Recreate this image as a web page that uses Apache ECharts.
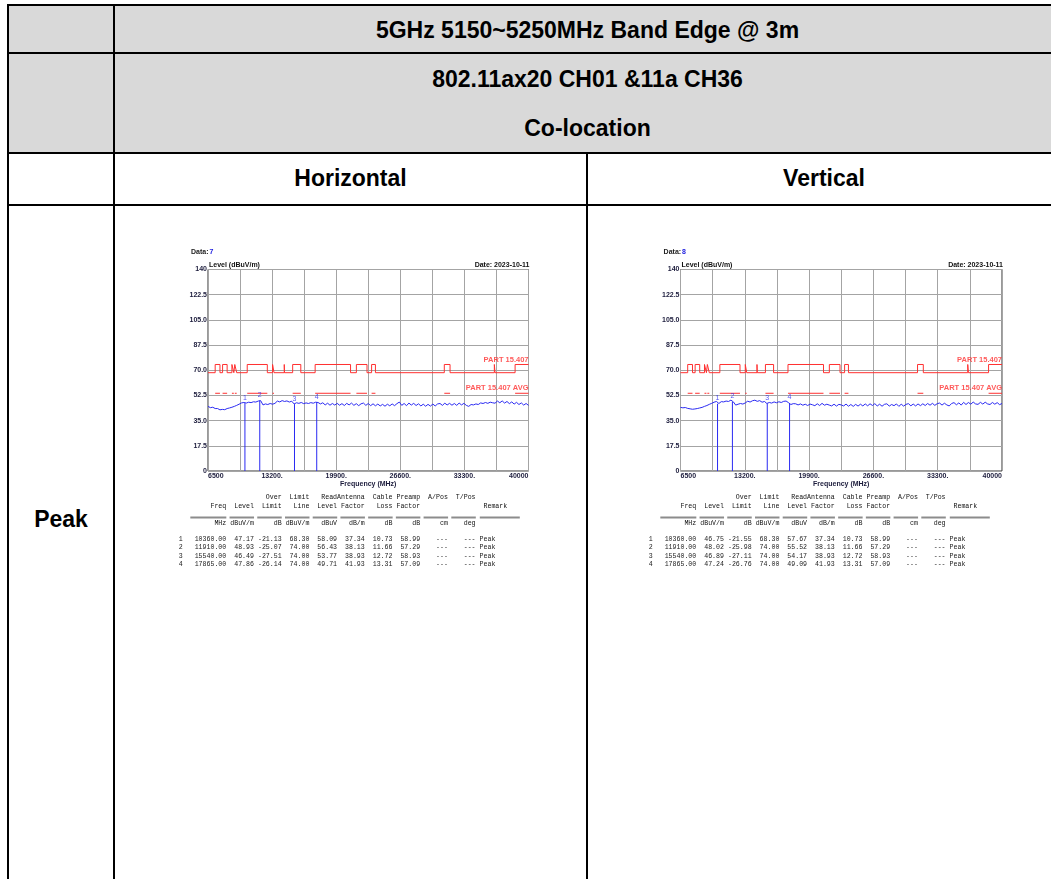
<!DOCTYPE html>
<html><head><meta charset="utf-8">
<script src="https://cdn.jsdelivr.net/npm/echarts@6/dist/echarts.min.js"></script>
<style>
html,body{margin:0;padding:0;background:#fff;}
#page{position:relative;width:1051px;height:879px;overflow:hidden;font-family:'Liberation Sans',Arial,sans-serif;}
.bg{position:absolute;background:#d9d9d9;}
.h{position:absolute;height:2px;background:#000;}
.v{position:absolute;width:2px;background:#000;}
.t{position:absolute;font-weight:bold;font-size:23px;height:28px;line-height:28px;text-align:center;color:#000;white-space:nowrap;}
#chart{position:absolute;left:0;top:0;width:1051px;height:879px;}
</style></head><body>
<div id="page">
  <div class="bg" style="left:8px;top:4px;width:1060px;height:149px"></div>
  <div class="h" style="left:8px;top:4px;width:1060px"></div>
  <div class="h" style="left:8px;top:52px;width:1060px"></div>
  <div class="h" style="left:8px;top:152px;width:1060px"></div>
  <div class="h" style="left:8px;top:204px;width:1060px"></div>
  <div class="v" style="left:7px;top:4px;height:875px"></div>
  <div class="v" style="left:113px;top:4px;height:875px"></div>
  <div class="v" style="left:586px;top:152px;height:727px"></div>
  <div class="t" style="left:114px;width:947px;top:16px">5GHz 5150~5250MHz Band Edge @ 3m</div>
  <div class="t" style="left:114px;width:947px;top:65px">802.11ax20 CH01 &amp;11a CH36</div>
  <div class="t" style="left:114px;width:947px;top:114px">Co-location</div>
  <div class="t" style="left:114px;width:473px;top:164px">Horizontal</div>
  <div class="t" style="left:587px;width:474px;top:164px">Vertical</div>
  <div class="t" style="left:8px;width:106px;top:505px">Peak</div>
  <div id="chart"></div>
</div>
<script>
// ---------------- data ----------------
const traceFreq = [6500,6750,7000,7250,7500,7750,8000,8250,8500,8750,9000,9250,9500,9750,10000,10250,10500,10750,11000,11250,11500,11750,12000,12250,12500,12750,13000,13250,13500,13750,14000,14250,14500,14750,15000,15250,15500,15750,16000,16250,16500,16750,17000,17250,17500,17750,18000,18250,18500,18750,19000,19250,19500,19750,20000,20250,20500,20750,21000,21250,21500,21750,22000,22250,22500,22750,23000,23250,23500,23750,24000,24250,24500,24750,25000,25250,25500,25750,26000,26250,26500,26750,27000,27250,27500,27750,28000,28250,28500,28750,29000,29250,29500,29750,30000,30250,30500,30750,31000,31250,31500,31750,32000,32250,32500,32750,33000,33250,33500,33750,34000,34250,34500,34750,35000,35250,35500,35750,36000,36250,36500,36750,37000,37250,37500,37750,38000,38250,38500,38750,39000,39250,39500,39750,40000];
const horizontalTrace = [
44.9,44.0,44.3,43.4, 43.4,42.5,42.8,42.6, 43.4,43.8,44.3,44.9, 45.6,46.4,47.3,47.6,
47.2,47.8,47.5,48.1, 47.9,48.6,48.9,45.9, 46.6,46.2,46.9,46.4, 47.0,48.6,48.0,48.9,
48.3,48.7,47.9,48.5, 46.6,47.4,47.0,47.6, 46.8,47.3,46.9,47.5, 47.1,47.8,47.6,46.6,
47.4,45.9,47.1,45.7, 46.9,45.8,47.0,45.7, 46.8,45.5,47.0,45.9, 47.2,45.6,46.8,45.4,
46.7,47.2,45.6,46.9, 45.4,46.7,45.3,46.5, 45.2,46.3,45.0,46.4, 45.3,46.6,45.4,46.8,
47.9,45.6,46.9,45.4, 47.2,45.8,47.0,45.5, 46.7,45.2,46.4,45.0, 46.3,45.1,46.5,45.2,
46.6,46.9,45.6,47.1, 45.9,47.0,45.7,46.9, 45.6,47.2,45.9,47.0, 45.6,44.9,46.2,45.9,
46.6,46.2,47.3,46.9, 47.6,47.0,47.8,47.4, 47.1,48.6,47.4,48.7, 47.2,48.3,46.8,48.0,
46.5,47.7,46.2,47.3, 45.8,46.9,45.6];
const verticalTrace = [
44.2,43.9,44.1,43.5, 43.2,42.9,43.1,43.4, 43.8,44.2,44.9,45.5, 46.3,47.0,47.8,48.3,
46.9,48.2,48.0,48.6, 48.3,49.2,48.1,45.8, 46.4,46.9,46.5,47.3, 48.5,47.9,48.8,49.2,
48.4,48.9,47.8,48.3, 46.9,47.6,47.2,48.0, 47.4,48.1,47.6,48.4, 48.6,47.5,46.2,46.8,
46.7,45.9,46.6,45.7, 46.4,45.5,46.5,46.0, 45.4,46.7,45.5,47.0, 45.7,46.4,45.8,45.2,
46.4,45.1,46.3,45.9, 45.2,46.5,45.0,46.2, 44.9,46.3,45.1,46.4, 45.2,46.6,45.3,46.7,
45.5,46.8,45.2,46.4, 45.0,46.3,46.7,45.1, 46.2,45.4,46.6,44.9, 46.4,45.1,46.3,46.8,
45.3,46.5,45.2,46.6, 45.4,46.7,45.5,46.9, 45.7,47.0,45.6,46.8, 47.2,45.8,47.1,45.9,
45.2,46.9,47.5,46.0, 47.3,45.8,47.7,46.2, 47.6,46.4,47.9,46.6, 46.3,47.7,46.5,47.8,
46.6,46.2,47.6,46.4, 47.5,46.1,46.9];
// restricted bands (MHz) where the peak limit is 74 dBuV/m and the AVG limit is 54
const bandStart = [7250,8025,9000,9300,10600,13250,14470,15350,17700,22010,23600,31200,36430,38600];
const bandEnd   = [7750,8500,9200,9500,12700,13400,14500,16200,21400,23120,24000,31800,36500,40000];
const peakLimitLow = 68.3, peakLimitHigh = 74.0, avgLimit = 54.0;
const markerFreq = [10360.00,11910.00,15540.00,17865.00];
const hLevel = [47.17,48.93,46.49,47.86];
const vLevel = [46.75,48.02,46.89,47.24];
const hOver = [-21.13,-25.07,-27.51,-26.14];
const vOver = [-21.55,-25.98,-27.11,-26.76];
const limitLine = [68.30,74.00,74.00,74.00];
const hRead = [58.09,56.43,53.77,49.71];
const vRead = [57.67,55.52,54.17,49.09];
const antFactor = [37.34,38.13,38.93,41.93];
const cableLoss = [10.73,11.66,12.72,13.31];
const preampFactor = [58.99,57.29,58.93,57.09];
const xLabelValues = [6500,13200,19900,26600,33300,40000];
const xLabelTexts = ['6500','13200.','19900.','26600.','33300.','40000'];
const yLabelValues = [0,17.5,35,52.5,70,87.5,105,122.5,140];
const yLabelTexts = ['0','17.5','35.0','52.5','70.0','87.5','105.0','122.5','140'];
const dataIds = ['7','8'];
const dateText = 'Date: 2023-10-11';

// ---------------- layout ----------------
const grids = [
  {left:208, top:269.5, width:320.5, height:201.5, dataX:191, tableX:178.8},
  {left:680.5, top:269.5, width:321.5, height:201.5, dataX:663.6, tableX:648.8}
];
const RED = '#ff3030', BLUE = '#2a2af2', LABEL = '#1c1c3c';
const sansB = '"Liberation Sans", Arial, sans-serif';

function limitPoints(){
  const pts = [[6500, peakLimitLow]];
  for (let i=0;i<bandStart.length;i++){
    pts.push([bandStart[i], peakLimitLow],[bandStart[i], peakLimitHigh],[bandEnd[i], peakLimitHigh]);
    if (bandEnd[i] < 40000) pts.push([bandEnd[i], peakLimitLow]);
  }
  return pts;
}
function avgPoints(){
  const pts = [];
  for (let i=0;i<bandStart.length;i++){
    pts.push([bandStart[i], avgLimit],[bandEnd[i], avgLimit],[bandEnd[i], '-']);
  }
  return pts;
}
function markerPoints(lv){
  const pts = [];
  markerFreq.forEach((f,k)=>{ pts.push([f,0],[f,lv[k]],[f,'-']); });
  return pts;
}

const xAxes=[], yAxes=[], gridOpts=[], series=[], graphics=[];
const traces=[horizontalTrace, verticalTrace];
const levels=[hLevel, vLevel];
const overs=[hOver, vOver];
const reads=[hRead, vRead];

const pad=(s,n)=>String(s).padStart(n,' ');
const monoFont = '6.6px "Liberation Mono", "DejaVu Sans Mono", monospace';
const CW = 3.96;

grids.forEach((g,i)=>{
  gridOpts.push({left:g.left, top:g.top, width:g.width, height:g.height, show:true, borderColor:'#333', borderWidth:1, backgroundColor:'transparent'});
  xAxes.push({type:'value', gridIndex:i, min:6500, max:40000, interval:3350,
    axisLine:{show:false}, axisTick:{show:false},
    splitLine:{show:true, lineStyle:{color:'#a4a4a4', width:1}},
    axisLabel:{margin:2, fontSize:7, fontWeight:'bold', color:LABEL, fontFamily:sansB,
      alignMinLabel:'left', alignMaxLabel:'right', showMinLabel:true, showMaxLabel:true,
      formatter:v=>{const k=xLabelValues.indexOf(v);return k>=0?xLabelTexts[k]:'';}}
  });
  yAxes.push({type:'value', gridIndex:i, min:0, max:140, interval:17.5,
    axisLine:{show:false}, axisTick:{show:false},
    splitLine:{show:true, lineStyle:{color:'#a4a4a4', width:1}},
    axisLabel:{margin:1, fontSize:7, fontWeight:'bold', color:LABEL, fontFamily:sansB,
      formatter:v=>{const k=yLabelValues.indexOf(v);return k>=0?yLabelTexts[k]:'';}}
  });
  series.push({type:'line', xAxisIndex:i, yAxisIndex:i, data:limitPoints(), symbol:'none', silent:true,
    lineStyle:{color:RED, width:1}, z:3});
  series.push({type:'line', xAxisIndex:i, yAxisIndex:i, data:avgPoints(), symbol:'none', silent:true, connectNulls:false,
    lineStyle:{color:RED, width:1}, z:3});
  series.push({type:'line', xAxisIndex:i, yAxisIndex:i, data:markerPoints(levels[i]), symbol:'none', silent:true, connectNulls:false,
    lineStyle:{color:BLUE, width:1}, z:4});
  series.push({type:'line', xAxisIndex:i, yAxisIndex:i, data:traceFreq.map((f,k)=>[f,traces[i][k]]), symbol:'none', silent:true,
    lineStyle:{color:BLUE, width:1}, z:4});
  series.push({type:'scatter', xAxisIndex:i, yAxisIndex:i, data:markerFreq.map((f,k)=>[f,levels[i][k]]), symbolSize:0, silent:true, z:5,
    label:{show:true, position:'top', distance:2, color:BLUE, fontSize:7, fontFamily:sansB, formatter:p=>String(p.dataIndex+1)}});
  series.push({type:'scatter', xAxisIndex:i, yAxisIndex:i, data:[[40000,peakLimitHigh,'PART 15.407'],[40000,avgLimit,'PART 15.407 AVG']], symbolSize:0, silent:true, z:5,
    label:{show:true, position:'top', distance:1, align:'right', color:RED, fontSize:7.5, fontWeight:'bold', fontFamily:sansB, formatter:p=>p.data[2]}});

  // chart texts
  const T=(x,y,text,opt)=>graphics.push(Object.assign({type:'text', x:x, y:y, silent:true,
    style:Object.assign({text:text, fill:'#111', font:'bold 7px '+sansB, align:'left', verticalAlign:'middle'}, opt||{})}));
  T(g.dataX, 252, 'Data:', {fill:'#222'});
  T(g.dataX+18.5, 252, dataIds[i], {fill:'#2020e0'});
  T(g.left+1, 265.5, 'Level (dBuV/m)', {});
  T(g.left+g.width+1, 265.5, dateText, {align:'right'});
  T(g.left+g.width/2, 484.5, 'Frequency (MHz)', {align:'center', fill:'#1c1c3c'});

  // result table
  const x0 = g.tableX;
  const M=(y,text,fill)=>graphics.push({type:'text', x:x0, y:y, silent:true,
    style:{text:text, fill:fill||'#111', font:monoFont, align:'left', verticalAlign:'middle'}});
  M(497.7, pad('',12)+pad('',7)+pad('Over',7)+pad('Limit',7)+pad('ReadAntenna',14)+pad('Cable',7)+pad('Preamp',7)+pad('A/Pos',7)+pad('T/Pos',7));
  M(506, pad('Freq',12)+pad('Level',7)+pad('Limit',7)+pad('Line',7)+pad('Level',7)+pad('Factor',7)+pad('Loss',7)+pad('Factor',7)+pad('',7)+pad('',7)+'  Remark');
  M(523.5, pad('MHz',12)+pad('dBuV/m',7)+pad('dB',7)+pad('dBuV/m',7)+pad('dBuV',7)+pad('dB/m',7)+pad('dB',7)+pad('dB',7)+pad('cm',7)+pad('deg',7));
  const rowY=[539.3,547.7,556,564.3];
  markerFreq.forEach((f,k)=>{
    M(rowY[k], String(k+1)+pad(f.toFixed(2),11)+pad(levels[i][k].toFixed(2),7)+pad(overs[i][k].toFixed(2),7)+pad(limitLine[k].toFixed(2),7)
      +pad(reads[i][k].toFixed(2),7)+pad(antFactor[k].toFixed(2),7)+pad(cableLoss[k].toFixed(2),7)+pad(preampFactor[k].toFixed(2),7)
      +pad('---',7)+pad('---',7)+' Peak', '#222');
  });
  const ends=[12,19,26,33,40,47,54,61,68,75];
  ends.forEach((e,k)=>{
    const xe=x0+e*CW, xs = k===0 ? xe-36 : xe-24.5;
    graphics.push({type:'line', silent:true, shape:{x1:xs,y1:517.5,x2:xe,y2:517.5}, style:{stroke:'#8c8c8c', lineWidth:2}});
  });
  const rx=x0+75*CW+4;
  graphics.push({type:'line', silent:true, shape:{x1:rx,y1:517.5,x2:rx+40,y2:517.5}, style:{stroke:'#8c8c8c', lineWidth:2}});
});

const chart = echarts.init(document.getElementById('chart'), null, {renderer:'canvas'});
chart.setOption({
  animation:false,
  backgroundColor:'transparent',
  grid:gridOpts, xAxis:xAxes, yAxis:yAxes, series:series, graphic:graphics
});
</script>
</body></html>
